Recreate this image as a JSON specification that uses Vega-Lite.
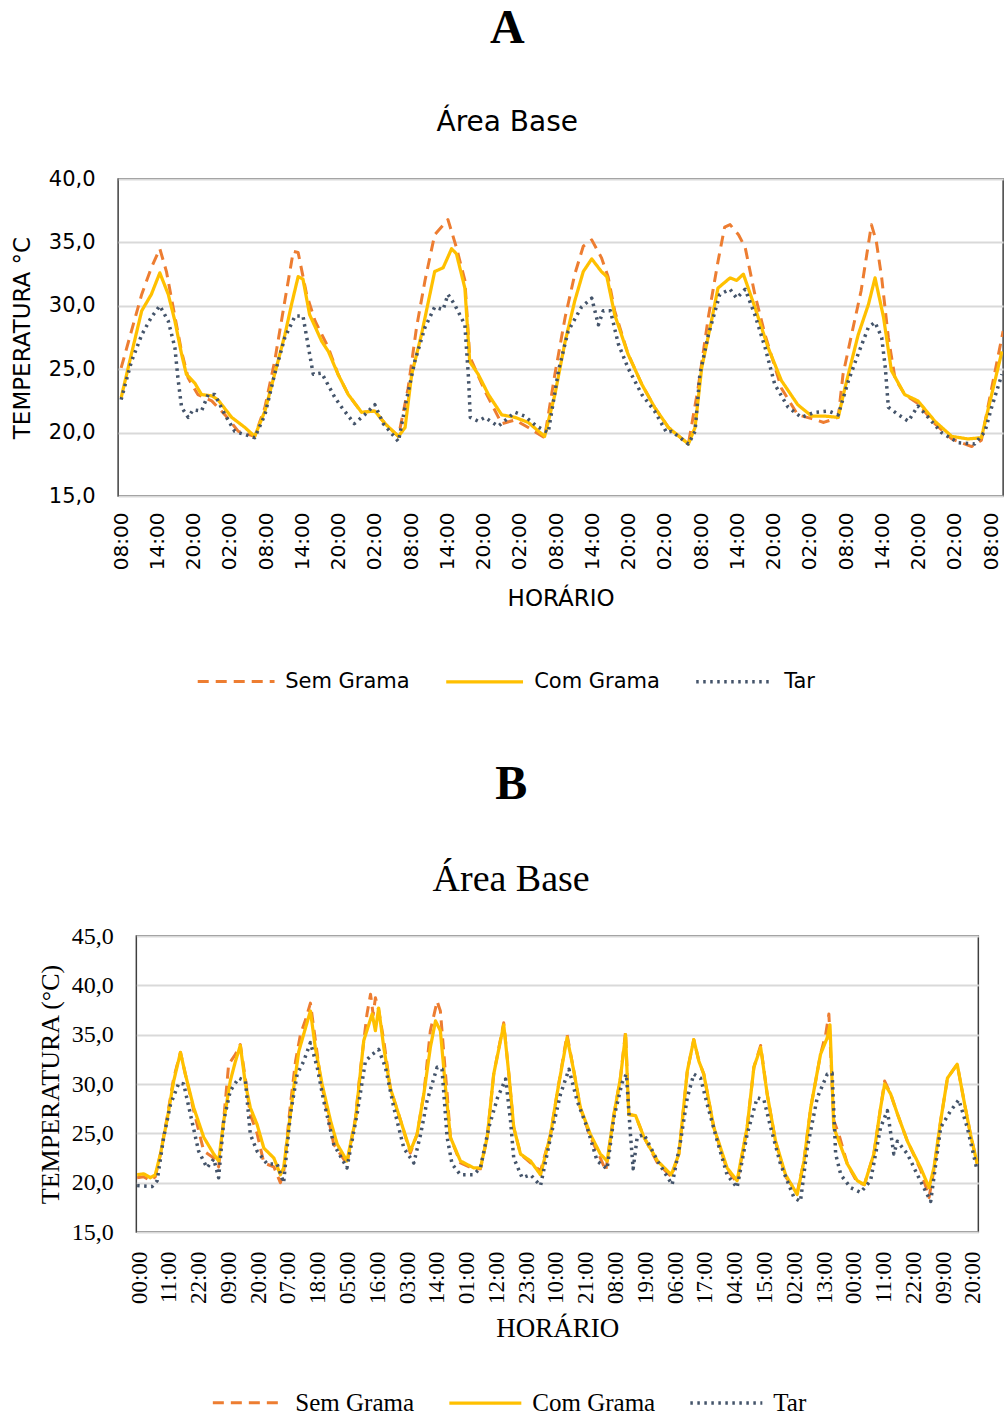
{
  "$schema": "https://vega.github.io/schema/vega-lite/v6.json",
  "background": "white",
  "padding": {"left": 10, "top": 4, "right": 0, "bottom": 0},
  "center": true,
  "spacing": 67,
  "resolve": {
    "scale": {"color": "independent", "strokeDash": "independent", "strokeWidth": "independent"},
    "legend": {"color": "independent", "strokeDash": "independent"}
  },
  "config": {
    "view": {"stroke": "#404040", "strokeWidth": 1.5},
    "axis": {"ticks": false, "domain": false, "labelColor": "black", "titleColor": "black", "titleFontWeight": "normal", "labelOverlap": false},
    "axisY": {"grid": true, "gridColor": "#D9D9D9", "gridWidth": 2},
    "axisX": {"grid": false}
  },
  "vconcat": [
    {
      "width": 885,
      "height": 317,
      "title": {
        "text": "A",
        "font": "Liberation Serif",
        "fontWeight": "bold",
        "fontSize": 48,
        "color": "black",
        "subtitle": "Área Base",
        "subtitleFont": "DejaVu Sans",
        "subtitleFontSize": 28,
        "subtitleColor": "black",
        "subtitlePadding": 56,
        "offset": 31,
        "anchor": "middle",
        "frame": "bounds"
      },
      "data": {
        "values": [
          {"hora": 0, "serie": "Sem Grama", "temp": 25.1},
          {"hora": 1.7, "serie": "Sem Grama", "temp": 28.0},
          {"hora": 3.4, "serie": "Sem Grama", "temp": 30.9},
          {"hora": 5.0, "serie": "Sem Grama", "temp": 33.0},
          {"hora": 6.4, "serie": "Sem Grama", "temp": 34.5},
          {"hora": 7.5, "serie": "Sem Grama", "temp": 32.7},
          {"hora": 8.6, "serie": "Sem Grama", "temp": 29.9},
          {"hora": 10, "serie": "Sem Grama", "temp": 26.4},
          {"hora": 11.1, "serie": "Sem Grama", "temp": 24.3},
          {"hora": 12.7, "serie": "Sem Grama", "temp": 23.0},
          {"hora": 15, "serie": "Sem Grama", "temp": 22.5},
          {"hora": 17.2, "serie": "Sem Grama", "temp": 21.4},
          {"hora": 19.4, "serie": "Sem Grama", "temp": 20.1},
          {"hora": 22.1, "serie": "Sem Grama", "temp": 19.7},
          {"hora": 23.8, "serie": "Sem Grama", "temp": 22.0},
          {"hora": 25.4, "serie": "Sem Grama", "temp": 25.6},
          {"hora": 27.1, "serie": "Sem Grama", "temp": 30.4},
          {"hora": 28.5, "serie": "Sem Grama", "temp": 34.3},
          {"hora": 29.3, "serie": "Sem Grama", "temp": 34.2},
          {"hora": 30.7, "serie": "Sem Grama", "temp": 30.9},
          {"hora": 32.1, "serie": "Sem Grama", "temp": 28.8},
          {"hora": 34.3, "serie": "Sem Grama", "temp": 26.7},
          {"hora": 35.9, "serie": "Sem Grama", "temp": 24.6},
          {"hora": 37.6, "serie": "Sem Grama", "temp": 23.0},
          {"hora": 39.8, "serie": "Sem Grama", "temp": 21.6},
          {"hora": 42, "serie": "Sem Grama", "temp": 21.7},
          {"hora": 43.7, "serie": "Sem Grama", "temp": 20.7},
          {"hora": 45.9, "serie": "Sem Grama", "temp": 19.7},
          {"hora": 47.5, "serie": "Sem Grama", "temp": 23.5},
          {"hora": 48.9, "serie": "Sem Grama", "temp": 28.3},
          {"hora": 50.3, "serie": "Sem Grama", "temp": 32.0},
          {"hora": 51.9, "serie": "Sem Grama", "temp": 35.6},
          {"hora": 54.1, "serie": "Sem Grama", "temp": 36.8},
          {"hora": 55.5, "serie": "Sem Grama", "temp": 34.6},
          {"hora": 56.9, "serie": "Sem Grama", "temp": 32.0},
          {"hora": 57.7, "serie": "Sem Grama", "temp": 26.0},
          {"hora": 60.2, "serie": "Sem Grama", "temp": 23.3},
          {"hora": 63, "serie": "Sem Grama", "temp": 20.7},
          {"hora": 65.2, "serie": "Sem Grama", "temp": 21.0},
          {"hora": 67.4, "serie": "Sem Grama", "temp": 20.4},
          {"hora": 70.1, "serie": "Sem Grama", "temp": 19.6},
          {"hora": 71.8, "serie": "Sem Grama", "temp": 24.6},
          {"hora": 73.5, "serie": "Sem Grama", "temp": 29.1},
          {"hora": 75.1, "serie": "Sem Grama", "temp": 32.5},
          {"hora": 76.5, "serie": "Sem Grama", "temp": 34.7},
          {"hora": 77.9, "serie": "Sem Grama", "temp": 35.2},
          {"hora": 79.5, "serie": "Sem Grama", "temp": 33.8},
          {"hora": 80.6, "serie": "Sem Grama", "temp": 32.3},
          {"hora": 81.7, "serie": "Sem Grama", "temp": 29.6},
          {"hora": 83.9, "serie": "Sem Grama", "temp": 26.2},
          {"hora": 86.2, "serie": "Sem Grama", "temp": 23.8},
          {"hora": 88.3, "serie": "Sem Grama", "temp": 22.0},
          {"hora": 90.6, "serie": "Sem Grama", "temp": 20.4},
          {"hora": 93.9, "serie": "Sem Grama", "temp": 19.1},
          {"hora": 95.5, "serie": "Sem Grama", "temp": 23.5},
          {"hora": 97.2, "serie": "Sem Grama", "temp": 29.1},
          {"hora": 98.8, "serie": "Sem Grama", "temp": 33.5},
          {"hora": 99.9, "serie": "Sem Grama", "temp": 36.2},
          {"hora": 100.8, "serie": "Sem Grama", "temp": 36.4},
          {"hora": 102.2, "serie": "Sem Grama", "temp": 35.6},
          {"hora": 103.3, "serie": "Sem Grama", "temp": 34.6},
          {"hora": 104.9, "serie": "Sem Grama", "temp": 30.9},
          {"hora": 106.6, "serie": "Sem Grama", "temp": 27.7},
          {"hora": 109.3, "serie": "Sem Grama", "temp": 23.5},
          {"hora": 112, "serie": "Sem Grama", "temp": 21.4},
          {"hora": 114.3, "serie": "Sem Grama", "temp": 21.1},
          {"hora": 116.3, "serie": "Sem Grama", "temp": 20.8},
          {"hora": 118.7, "serie": "Sem Grama", "temp": 21.2},
          {"hora": 119.5, "serie": "Sem Grama", "temp": 24.6},
          {"hora": 120.9, "serie": "Sem Grama", "temp": 27.7},
          {"hora": 122.5, "serie": "Sem Grama", "temp": 31.2},
          {"hora": 124.2, "serie": "Sem Grama", "temp": 36.4},
          {"hora": 125, "serie": "Sem Grama", "temp": 35.1},
          {"hora": 125.9, "serie": "Sem Grama", "temp": 32.2},
          {"hora": 127, "serie": "Sem Grama", "temp": 27.5},
          {"hora": 128.1, "serie": "Sem Grama", "temp": 24.3},
          {"hora": 129.7, "serie": "Sem Grama", "temp": 23.0},
          {"hora": 131.9, "serie": "Sem Grama", "temp": 22.3},
          {"hora": 134.7, "serie": "Sem Grama", "temp": 20.7},
          {"hora": 137.5, "serie": "Sem Grama", "temp": 19.5},
          {"hora": 140.8, "serie": "Sem Grama", "temp": 18.9},
          {"hora": 142.4, "serie": "Sem Grama", "temp": 19.4},
          {"hora": 144.1, "serie": "Sem Grama", "temp": 23.5},
          {"hora": 146, "serie": "Sem Grama", "temp": 28.0},

          {"hora": 0, "serie": "Com Grama", "temp": 22.75},
          {"hora": 1.7, "serie": "Com Grama", "temp": 26.2},
          {"hora": 3.4, "serie": "Com Grama", "temp": 29.6},
          {"hora": 5.0, "serie": "Com Grama", "temp": 30.9},
          {"hora": 6.4, "serie": "Com Grama", "temp": 32.6},
          {"hora": 7.8, "serie": "Com Grama", "temp": 30.9},
          {"hora": 8.9, "serie": "Com Grama", "temp": 28.8},
          {"hora": 10, "serie": "Com Grama", "temp": 26.2},
          {"hora": 10.8, "serie": "Com Grama", "temp": 24.6},
          {"hora": 12.2, "serie": "Com Grama", "temp": 23.9},
          {"hora": 13.3, "serie": "Com Grama", "temp": 23.0},
          {"hora": 15, "serie": "Com Grama", "temp": 22.9},
          {"hora": 16, "serie": "Com Grama", "temp": 22.6},
          {"hora": 18.3, "serie": "Com Grama", "temp": 21.2},
          {"hora": 20.5, "serie": "Com Grama", "temp": 20.4},
          {"hora": 22.1, "serie": "Com Grama", "temp": 19.7},
          {"hora": 23.8, "serie": "Com Grama", "temp": 21.7},
          {"hora": 25.4, "serie": "Com Grama", "temp": 24.6},
          {"hora": 27.1, "serie": "Com Grama", "temp": 27.7},
          {"hora": 28.2, "serie": "Com Grama", "temp": 30.1},
          {"hora": 29.3, "serie": "Com Grama", "temp": 32.3},
          {"hora": 30.1, "serie": "Com Grama", "temp": 32.1},
          {"hora": 31.2, "serie": "Com Grama", "temp": 29.3},
          {"hora": 33.2, "serie": "Com Grama", "temp": 27.2},
          {"hora": 34.3, "serie": "Com Grama", "temp": 26.4},
          {"hora": 35.9, "serie": "Com Grama", "temp": 24.6},
          {"hora": 37.6, "serie": "Com Grama", "temp": 23.0},
          {"hora": 39.8, "serie": "Com Grama", "temp": 21.6},
          {"hora": 42, "serie": "Com Grama", "temp": 21.7},
          {"hora": 43.7, "serie": "Com Grama", "temp": 20.7},
          {"hora": 45.9, "serie": "Com Grama", "temp": 19.7},
          {"hora": 47, "serie": "Com Grama", "temp": 20.4},
          {"hora": 48.1, "serie": "Com Grama", "temp": 24.6},
          {"hora": 49.7, "serie": "Com Grama", "temp": 27.7},
          {"hora": 51.9, "serie": "Com Grama", "temp": 32.7},
          {"hora": 53.3, "serie": "Com Grama", "temp": 33.0},
          {"hora": 54.7, "serie": "Com Grama", "temp": 34.5},
          {"hora": 55.5, "serie": "Com Grama", "temp": 34.1},
          {"hora": 56.9, "serie": "Com Grama", "temp": 31.4},
          {"hora": 57.7, "serie": "Com Grama", "temp": 25.6},
          {"hora": 59.1, "serie": "Com Grama", "temp": 24.6},
          {"hora": 60.8, "serie": "Com Grama", "temp": 23.0},
          {"hora": 63, "serie": "Com Grama", "temp": 21.4},
          {"hora": 65.2, "serie": "Com Grama", "temp": 21.2},
          {"hora": 67.4, "serie": "Com Grama", "temp": 20.8},
          {"hora": 70.1, "serie": "Com Grama", "temp": 19.7},
          {"hora": 71.8, "serie": "Com Grama", "temp": 23.0},
          {"hora": 73.5, "serie": "Com Grama", "temp": 27.2},
          {"hora": 75.1, "serie": "Com Grama", "temp": 30.4},
          {"hora": 76.5, "serie": "Com Grama", "temp": 32.7},
          {"hora": 77.9, "serie": "Com Grama", "temp": 33.7},
          {"hora": 79.5, "serie": "Com Grama", "temp": 32.7},
          {"hora": 80.4, "serie": "Com Grama", "temp": 32.3},
          {"hora": 81.7, "serie": "Com Grama", "temp": 29.3},
          {"hora": 83.9, "serie": "Com Grama", "temp": 26.2},
          {"hora": 86.2, "serie": "Com Grama", "temp": 23.8},
          {"hora": 88.3, "serie": "Com Grama", "temp": 22.0},
          {"hora": 90.6, "serie": "Com Grama", "temp": 20.4},
          {"hora": 93.9, "serie": "Com Grama", "temp": 19.1},
          {"hora": 95, "serie": "Com Grama", "temp": 20.4},
          {"hora": 96.1, "serie": "Com Grama", "temp": 25.1},
          {"hora": 97.5, "serie": "Com Grama", "temp": 28.3},
          {"hora": 98.8, "serie": "Com Grama", "temp": 31.4},
          {"hora": 100.8, "serie": "Com Grama", "temp": 32.2},
          {"hora": 101.9, "serie": "Com Grama", "temp": 32.0},
          {"hora": 103, "serie": "Com Grama", "temp": 32.5},
          {"hora": 104.9, "serie": "Com Grama", "temp": 29.9},
          {"hora": 107.1, "serie": "Com Grama", "temp": 26.7},
          {"hora": 109.3, "serie": "Com Grama", "temp": 24.1},
          {"hora": 112, "serie": "Com Grama", "temp": 22.2},
          {"hora": 114.3, "serie": "Com Grama", "temp": 21.3},
          {"hora": 116.5, "serie": "Com Grama", "temp": 21.3},
          {"hora": 118.7, "serie": "Com Grama", "temp": 21.2},
          {"hora": 119.8, "serie": "Com Grama", "temp": 23.5},
          {"hora": 122, "serie": "Com Grama", "temp": 27.7},
          {"hora": 123.7, "serie": "Com Grama", "temp": 30.1},
          {"hora": 124.8, "serie": "Com Grama", "temp": 32.2},
          {"hora": 126.2, "serie": "Com Grama", "temp": 29.1},
          {"hora": 127.5, "serie": "Com Grama", "temp": 24.9},
          {"hora": 129.7, "serie": "Com Grama", "temp": 23.0},
          {"hora": 131.9, "serie": "Com Grama", "temp": 22.5},
          {"hora": 134.7, "serie": "Com Grama", "temp": 20.9},
          {"hora": 137.5, "serie": "Com Grama", "temp": 19.7},
          {"hora": 140.2, "serie": "Com Grama", "temp": 19.5},
          {"hora": 142.4, "serie": "Com Grama", "temp": 19.6},
          {"hora": 144.1, "serie": "Com Grama", "temp": 23.0},
          {"hora": 145.8, "serie": "Com Grama", "temp": 26.4},

          {"hora": 0, "serie": "Tar", "temp": 22.6},
          {"hora": 1.7, "serie": "Tar", "temp": 25.6},
          {"hora": 3.4, "serie": "Tar", "temp": 27.7},
          {"hora": 5.0, "serie": "Tar", "temp": 29.1},
          {"hora": 6.4, "serie": "Tar", "temp": 30.0},
          {"hora": 7.8, "serie": "Tar", "temp": 28.8},
          {"hora": 8.9, "serie": "Tar", "temp": 26.7},
          {"hora": 9.4, "serie": "Tar", "temp": 24.3},
          {"hora": 10, "serie": "Tar", "temp": 22.0},
          {"hora": 11.1, "serie": "Tar", "temp": 21.2},
          {"hora": 11.9, "serie": "Tar", "temp": 21.8},
          {"hora": 13.3, "serie": "Tar", "temp": 21.7},
          {"hora": 14.4, "serie": "Tar", "temp": 23.0},
          {"hora": 15.5, "serie": "Tar", "temp": 23.0},
          {"hora": 17.2, "serie": "Tar", "temp": 21.4},
          {"hora": 18.8, "serie": "Tar", "temp": 20.1},
          {"hora": 22.1, "serie": "Tar", "temp": 19.6},
          {"hora": 23.8, "serie": "Tar", "temp": 21.4},
          {"hora": 25.4, "serie": "Tar", "temp": 24.6},
          {"hora": 27.1, "serie": "Tar", "temp": 27.5},
          {"hora": 28.8, "serie": "Tar", "temp": 29.2},
          {"hora": 30.1, "serie": "Tar", "temp": 29.2},
          {"hora": 31.2, "serie": "Tar", "temp": 26.2},
          {"hora": 31.8, "serie": "Tar", "temp": 24.6},
          {"hora": 33.2, "serie": "Tar", "temp": 24.7},
          {"hora": 35.4, "serie": "Tar", "temp": 22.75},
          {"hora": 36.5, "serie": "Tar", "temp": 22.0},
          {"hora": 38.6, "serie": "Tar", "temp": 20.7},
          {"hora": 40.3, "serie": "Tar", "temp": 21.4},
          {"hora": 42, "serie": "Tar", "temp": 22.2},
          {"hora": 43.4, "serie": "Tar", "temp": 20.7},
          {"hora": 45.9, "serie": "Tar", "temp": 19.3},
          {"hora": 47.2, "serie": "Tar", "temp": 22.5},
          {"hora": 48.6, "serie": "Tar", "temp": 25.6},
          {"hora": 50.3, "serie": "Tar", "temp": 28.3},
          {"hora": 51.9, "serie": "Tar", "temp": 29.9},
          {"hora": 53.3, "serie": "Tar", "temp": 29.7},
          {"hora": 54.1, "serie": "Tar", "temp": 30.9},
          {"hora": 55.2, "serie": "Tar", "temp": 30.1},
          {"hora": 56.9, "serie": "Tar", "temp": 28.5},
          {"hora": 57.5, "serie": "Tar", "temp": 24.3},
          {"hora": 57.8, "serie": "Tar", "temp": 21.2},
          {"hora": 59.1, "serie": "Tar", "temp": 20.9},
          {"hora": 60.2, "serie": "Tar", "temp": 21.2},
          {"hora": 62.4, "serie": "Tar", "temp": 20.5},
          {"hora": 65.2, "serie": "Tar", "temp": 21.6},
          {"hora": 66.8, "serie": "Tar", "temp": 21.3},
          {"hora": 68.8, "serie": "Tar", "temp": 20.5},
          {"hora": 70.7, "serie": "Tar", "temp": 20.0},
          {"hora": 72.4, "serie": "Tar", "temp": 24.9},
          {"hora": 74, "serie": "Tar", "temp": 28.0},
          {"hora": 76.2, "serie": "Tar", "temp": 29.9},
          {"hora": 77.9, "serie": "Tar", "temp": 30.6},
          {"hora": 79, "serie": "Tar", "temp": 28.5},
          {"hora": 79.8, "serie": "Tar", "temp": 29.6},
          {"hora": 81, "serie": "Tar", "temp": 29.6},
          {"hora": 82.3, "serie": "Tar", "temp": 27.0},
          {"hora": 83.9, "serie": "Tar", "temp": 25.1},
          {"hora": 86.2, "serie": "Tar", "temp": 23.0},
          {"hora": 88.3, "serie": "Tar", "temp": 21.7},
          {"hora": 90.3, "serie": "Tar", "temp": 20.0},
          {"hora": 91.1, "serie": "Tar", "temp": 20.1},
          {"hora": 93.9, "serie": "Tar", "temp": 19.1},
          {"hora": 95, "serie": "Tar", "temp": 20.1},
          {"hora": 95.8, "serie": "Tar", "temp": 24.6},
          {"hora": 97.2, "serie": "Tar", "temp": 27.7},
          {"hora": 99.1, "serie": "Tar", "temp": 30.9},
          {"hora": 100.8, "serie": "Tar", "temp": 31.3},
          {"hora": 101.9, "serie": "Tar", "temp": 30.6},
          {"hora": 103.3, "serie": "Tar", "temp": 31.3},
          {"hora": 104.9, "serie": "Tar", "temp": 29.3},
          {"hora": 106.6, "serie": "Tar", "temp": 26.7},
          {"hora": 108.2, "serie": "Tar", "temp": 23.8},
          {"hora": 110.4, "serie": "Tar", "temp": 22.0},
          {"hora": 112.6, "serie": "Tar", "temp": 21.2},
          {"hora": 114.8, "serie": "Tar", "temp": 21.6},
          {"hora": 117.1, "serie": "Tar", "temp": 21.7},
          {"hora": 118.7, "serie": "Tar", "temp": 21.4},
          {"hora": 120.4, "serie": "Tar", "temp": 24.1},
          {"hora": 122, "serie": "Tar", "temp": 26.2},
          {"hora": 123.7, "serie": "Tar", "temp": 28.3},
          {"hora": 124.8, "serie": "Tar", "temp": 28.7},
          {"hora": 125.9, "serie": "Tar", "temp": 27.5},
          {"hora": 126.5, "serie": "Tar", "temp": 25.1},
          {"hora": 127, "serie": "Tar", "temp": 22.0},
          {"hora": 128.7, "serie": "Tar", "temp": 21.4},
          {"hora": 130.3, "serie": "Tar", "temp": 20.9},
          {"hora": 131.9, "serie": "Tar", "temp": 22.1},
          {"hora": 133.6, "serie": "Tar", "temp": 21.2},
          {"hora": 135.8, "serie": "Tar", "temp": 20.0},
          {"hora": 138.6, "serie": "Tar", "temp": 19.2},
          {"hora": 141.3, "serie": "Tar", "temp": 19.1},
          {"hora": 143, "serie": "Tar", "temp": 20.1},
          {"hora": 144.1, "serie": "Tar", "temp": 22.0},
          {"hora": 145.8, "serie": "Tar", "temp": 24.6}
        ]
      },
      "mark": {"type": "line", "clip": true, "strokeCap": "butt", "strokeJoin": "round"},
      "encoding": {
        "x": {
          "field": "hora", "type": "quantitative",
          "scale": {"domain": [-0.5, 146], "nice": false, "zero": false},
          "axis": {
            "values": [0, 6, 12, 18, 24, 30, 36, 42, 48, 54, 60, 66, 72, 78, 84, 90, 96, 102, 108, 114, 120, 126, 132, 138, 144],
            "labelExpr": "(((8 + datum.value) % 24) < 10 ? '0' : '') + ((8 + datum.value) % 24) + ':00'",
            "labelAngle": -90,
            "labelFont": "DejaVu Sans", "labelFontSize": 20, "labelPadding": 16,
            "title": "HORÁRIO", "titleFont": "DejaVu Sans", "titleFontSize": 23, "titlePadding": 18
          }
        },
        "y": {
          "field": "temp", "type": "quantitative",
          "scale": {"domain": [15, 40], "nice": false, "zero": false},
          "axis": {
            "values": [15, 20, 25, 30, 35, 40],
            "labelExpr": "replace(format(datum.value, '.1f'), '.', ',')",
            "labelFont": "DejaVu Sans", "labelFontSize": 21, "labelPadding": 23,
            "title": "TEMPERATURA °C", "titleFont": "DejaVu Sans", "titleFontSize": 23, "titlePadding": 14
          }
        },
        "color": {
          "field": "serie", "type": "nominal",
          "scale": {"domain": ["Sem Grama", "Com Grama", "Tar"], "range": ["#ED7D31", "#FFC000", "#44546A"]},
          "legend": {"orient": "none", "legendX": 78, "legendY": 462, "direction": "horizontal", "title": null, "symbolType": "stroke", "symbolSize": 5900, "symbolStrokeWidth": 3.5, "labelFont": "DejaVu Sans", "labelFontSize": 21, "labelColor": "black", "labelOffset": 9, "columnPadding": 29, "padding": 0, "labelLimit": 300}
        },
        "strokeDash": {
          "field": "serie", "type": "nominal",
          "scale": {"domain": ["Sem Grama", "Com Grama", "Tar"], "range": [[11, 7], [1, 0], [2.5, 4.5]]},
          "legend": {"orient": "none", "legendX": 78, "legendY": 462, "direction": "horizontal", "title": null, "symbolType": "stroke", "symbolSize": 5900, "symbolStrokeWidth": 3.5, "labelFont": "DejaVu Sans", "labelFontSize": 21, "labelColor": "black", "labelOffset": 9, "columnPadding": 29, "padding": 0, "labelLimit": 300}
        },
        "strokeWidth": {
          "field": "serie", "type": "nominal",
          "scale": {"domain": ["Sem Grama", "Com Grama", "Tar"], "range": [3, 3.5, 2.5]},
          "legend": null
        }
      }
    },
    {
      "width": 842,
      "height": 296,
      "title": {
        "text": "B",
        "font": "Liberation Serif",
        "fontWeight": "bold",
        "fontSize": 48,
        "color": "black",
        "subtitle": "Área Base",
        "subtitleFont": "Liberation Serif",
        "subtitleFontSize": 38,
        "subtitleColor": "black",
        "subtitlePadding": 52,
        "offset": 25,
        "anchor": "middle",
        "frame": "bounds"
      },
      "data": {
        "values": [
          {"hora": -0.7, "serie": "Sem Grama", "temp": 20.5},
          {"hora": 1.7, "serie": "Sem Grama", "temp": 20.6},
          {"hora": 4.2, "serie": "Sem Grama", "temp": 20.2},
          {"hora": 6, "serie": "Sem Grama", "temp": 20.6},
          {"hora": 7.9, "serie": "Sem Grama", "temp": 22.9},
          {"hora": 10.3, "serie": "Sem Grama", "temp": 26.5},
          {"hora": 12.8, "serie": "Sem Grama", "temp": 30.6},
          {"hora": 15.3, "serie": "Sem Grama", "temp": 33.2},
          {"hora": 17.1, "serie": "Sem Grama", "temp": 31.0},
          {"hora": 20.2, "serie": "Sem Grama", "temp": 27.3},
          {"hora": 23.9, "serie": "Sem Grama", "temp": 23.2},
          {"hora": 27.6, "serie": "Sem Grama", "temp": 22.5},
          {"hora": 29.4, "serie": "Sem Grama", "temp": 21.6},
          {"hora": 31.3, "serie": "Sem Grama", "temp": 26.5},
          {"hora": 33.1, "serie": "Sem Grama", "temp": 32.0},
          {"hora": 35.6, "serie": "Sem Grama", "temp": 33.0},
          {"hora": 37.4, "serie": "Sem Grama", "temp": 34.0},
          {"hora": 39.3, "serie": "Sem Grama", "temp": 30.5},
          {"hora": 41.1, "serie": "Sem Grama", "temp": 26.9},
          {"hora": 43.6, "serie": "Sem Grama", "temp": 25.0},
          {"hora": 46.1, "serie": "Sem Grama", "temp": 22.0},
          {"hora": 49.8, "serie": "Sem Grama", "temp": 21.6},
          {"hora": 52.2, "serie": "Sem Grama", "temp": 20.0},
          {"hora": 53.4, "serie": "Sem Grama", "temp": 21.0},
          {"hora": 55.9, "serie": "Sem Grama", "temp": 27.9},
          {"hora": 57.8, "serie": "Sem Grama", "temp": 32.3},
          {"hora": 59.6, "serie": "Sem Grama", "temp": 35.0},
          {"hora": 61.5, "serie": "Sem Grama", "temp": 36.5},
          {"hora": 63.3, "serie": "Sem Grama", "temp": 38.2},
          {"hora": 65.1, "serie": "Sem Grama", "temp": 34.5},
          {"hora": 67, "serie": "Sem Grama", "temp": 30.6},
          {"hora": 71.9, "serie": "Sem Grama", "temp": 23.9},
          {"hora": 76.8, "serie": "Sem Grama", "temp": 21.9},
          {"hora": 79.9, "serie": "Sem Grama", "temp": 26.5},
          {"hora": 81.7, "serie": "Sem Grama", "temp": 31.3},
          {"hora": 84.2, "serie": "Sem Grama", "temp": 37.1},
          {"hora": 85.5, "serie": "Sem Grama", "temp": 39.1},
          {"hora": 86.5, "serie": "Sem Grama", "temp": 37.0},
          {"hora": 87.3, "serie": "Sem Grama", "temp": 38.75},
          {"hora": 88.5, "serie": "Sem Grama", "temp": 37.5},
          {"hora": 90.4, "serie": "Sem Grama", "temp": 34.4},
          {"hora": 92.8, "serie": "Sem Grama", "temp": 29.6},
          {"hora": 96.6, "serie": "Sem Grama", "temp": 26.3},
          {"hora": 100.2, "serie": "Sem Grama", "temp": 23.0},
          {"hora": 102.7, "serie": "Sem Grama", "temp": 24.9},
          {"hora": 105.2, "serie": "Sem Grama", "temp": 29.0},
          {"hora": 107.6, "serie": "Sem Grama", "temp": 35.4},
          {"hora": 110.1, "serie": "Sem Grama", "temp": 38.4},
          {"hora": 111.3, "serie": "Sem Grama", "temp": 37.4},
          {"hora": 113.8, "serie": "Sem Grama", "temp": 29.0},
          {"hora": 115, "serie": "Sem Grama", "temp": 24.6},
          {"hora": 118.7, "serie": "Sem Grama", "temp": 22.0},
          {"hora": 123.6, "serie": "Sem Grama", "temp": 21.4},
          {"hora": 126.1, "serie": "Sem Grama", "temp": 21.4},
          {"hora": 128.6, "serie": "Sem Grama", "temp": 24.6},
          {"hora": 131, "serie": "Sem Grama", "temp": 31.0},
          {"hora": 134.7, "serie": "Sem Grama", "temp": 36.2},
          {"hora": 136.6, "serie": "Sem Grama", "temp": 31.0},
          {"hora": 138.4, "serie": "Sem Grama", "temp": 25.6},
          {"hora": 140.9, "serie": "Sem Grama", "temp": 22.9},
          {"hora": 144.6, "serie": "Sem Grama", "temp": 22.0},
          {"hora": 148.3, "serie": "Sem Grama", "temp": 21.2},
          {"hora": 152, "serie": "Sem Grama", "temp": 24.9},
          {"hora": 154.4, "serie": "Sem Grama", "temp": 29.0},
          {"hora": 158.1, "serie": "Sem Grama", "temp": 35.0},
          {"hora": 160.6, "serie": "Sem Grama", "temp": 31.3},
          {"hora": 163, "serie": "Sem Grama", "temp": 27.6},
          {"hora": 166.7, "serie": "Sem Grama", "temp": 24.6},
          {"hora": 170.4, "serie": "Sem Grama", "temp": 22.5},
          {"hora": 172.4, "serie": "Sem Grama", "temp": 21.2},
          {"hora": 175.4, "serie": "Sem Grama", "temp": 26.9},
          {"hora": 177.8, "serie": "Sem Grama", "temp": 30.6},
          {"hora": 179.7, "serie": "Sem Grama", "temp": 35.3},
          {"hora": 180.9, "serie": "Sem Grama", "temp": 26.9},
          {"hora": 183.4, "serie": "Sem Grama", "temp": 26.8},
          {"hora": 186.5, "serie": "Sem Grama", "temp": 24.6},
          {"hora": 191.5, "serie": "Sem Grama", "temp": 22.0},
          {"hora": 196.6, "serie": "Sem Grama", "temp": 20.6},
          {"hora": 199.4, "serie": "Sem Grama", "temp": 22.9},
          {"hora": 202.5, "serie": "Sem Grama", "temp": 31.3},
          {"hora": 204.9, "serie": "Sem Grama", "temp": 34.5},
          {"hora": 206.8, "serie": "Sem Grama", "temp": 32.3},
          {"hora": 208.6, "serie": "Sem Grama", "temp": 31.0},
          {"hora": 212.3, "serie": "Sem Grama", "temp": 25.6},
          {"hora": 217.2, "serie": "Sem Grama", "temp": 21.3},
          {"hora": 220.9, "serie": "Sem Grama", "temp": 20.0},
          {"hora": 224.6, "serie": "Sem Grama", "temp": 25.6},
          {"hora": 227.1, "serie": "Sem Grama", "temp": 31.7},
          {"hora": 229.6, "serie": "Sem Grama", "temp": 33.9},
          {"hora": 232, "serie": "Sem Grama", "temp": 29.0},
          {"hora": 235.1, "serie": "Sem Grama", "temp": 24.2},
          {"hora": 238.8, "serie": "Sem Grama", "temp": 20.6},
          {"hora": 243.1, "serie": "Sem Grama", "temp": 19.0},
          {"hora": 245.6, "serie": "Sem Grama", "temp": 22.2},
          {"hora": 248.1, "serie": "Sem Grama", "temp": 27.6},
          {"hora": 251.7, "serie": "Sem Grama", "temp": 33.0},
          {"hora": 253.6, "serie": "Sem Grama", "temp": 35.0},
          {"hora": 254.8, "serie": "Sem Grama", "temp": 37.1},
          {"hora": 256.6, "serie": "Sem Grama", "temp": 26.3},
          {"hora": 258.5, "serie": "Sem Grama", "temp": 24.9},
          {"hora": 261.6, "serie": "Sem Grama", "temp": 21.9},
          {"hora": 265.3, "serie": "Sem Grama", "temp": 20.0},
          {"hora": 267.9, "serie": "Sem Grama", "temp": 19.8},
          {"hora": 271.4, "serie": "Sem Grama", "temp": 22.9},
          {"hora": 273.9, "serie": "Sem Grama", "temp": 27.6},
          {"hora": 275.4, "serie": "Sem Grama", "temp": 30.3},
          {"hora": 277.6, "serie": "Sem Grama", "temp": 29.0},
          {"hora": 280.2, "serie": "Sem Grama", "temp": 26.9},
          {"hora": 283.8, "serie": "Sem Grama", "temp": 24.2},
          {"hora": 288.7, "serie": "Sem Grama", "temp": 21.3},
          {"hora": 291.8, "serie": "Sem Grama", "temp": 18.5},
          {"hora": 293.6, "serie": "Sem Grama", "temp": 21.3},
          {"hora": 296.1, "serie": "Sem Grama", "temp": 26.3},
          {"hora": 298.6, "serie": "Sem Grama", "temp": 30.6},
          {"hora": 302.2, "serie": "Sem Grama", "temp": 32.0},
          {"hora": 304.7, "serie": "Sem Grama", "temp": 28.3},
          {"hora": 307.1, "serie": "Sem Grama", "temp": 24.9},
          {"hora": 309.6, "serie": "Sem Grama", "temp": 21.9},

          {"hora": -0.7, "serie": "Com Grama", "temp": 20.8},
          {"hora": 1.7, "serie": "Com Grama", "temp": 20.9},
          {"hora": 4.2, "serie": "Com Grama", "temp": 20.5},
          {"hora": 6, "serie": "Com Grama", "temp": 20.8},
          {"hora": 7.9, "serie": "Com Grama", "temp": 22.9},
          {"hora": 10.3, "serie": "Com Grama", "temp": 26.3},
          {"hora": 12.8, "serie": "Com Grama", "temp": 30.3},
          {"hora": 15.3, "serie": "Com Grama", "temp": 33.2},
          {"hora": 17.1, "serie": "Com Grama", "temp": 31.0},
          {"hora": 20.2, "serie": "Com Grama", "temp": 27.6},
          {"hora": 23.9, "serie": "Com Grama", "temp": 24.6},
          {"hora": 27.6, "serie": "Com Grama", "temp": 22.9},
          {"hora": 29.4, "serie": "Com Grama", "temp": 22.2},
          {"hora": 31.3, "serie": "Com Grama", "temp": 26.3},
          {"hora": 33.7, "serie": "Com Grama", "temp": 30.3},
          {"hora": 35.6, "serie": "Com Grama", "temp": 32.3},
          {"hora": 37.4, "serie": "Com Grama", "temp": 33.9},
          {"hora": 39.3, "serie": "Com Grama", "temp": 30.0},
          {"hora": 41.1, "serie": "Com Grama", "temp": 27.6},
          {"hora": 43.6, "serie": "Com Grama", "temp": 25.9},
          {"hora": 46.1, "serie": "Com Grama", "temp": 23.5},
          {"hora": 49.8, "serie": "Com Grama", "temp": 22.5},
          {"hora": 52.2, "serie": "Com Grama", "temp": 20.8},
          {"hora": 53.4, "serie": "Com Grama", "temp": 21.5},
          {"hora": 55.3, "serie": "Com Grama", "temp": 25.6},
          {"hora": 57.1, "serie": "Com Grama", "temp": 29.6},
          {"hora": 59, "serie": "Com Grama", "temp": 33.3},
          {"hora": 61.5, "serie": "Com Grama", "temp": 35.7},
          {"hora": 63.3, "serie": "Com Grama", "temp": 37.4},
          {"hora": 65.1, "serie": "Com Grama", "temp": 33.7},
          {"hora": 67.6, "serie": "Com Grama", "temp": 30.0},
          {"hora": 70.7, "serie": "Com Grama", "temp": 26.3},
          {"hora": 73.2, "serie": "Com Grama", "temp": 23.9},
          {"hora": 76.8, "serie": "Com Grama", "temp": 22.2},
          {"hora": 79.9, "serie": "Com Grama", "temp": 26.3},
          {"hora": 83, "serie": "Com Grama", "temp": 34.4},
          {"hora": 86.1, "serie": "Com Grama", "temp": 37.1},
          {"hora": 87.3, "serie": "Com Grama", "temp": 35.4},
          {"hora": 88.5, "serie": "Com Grama", "temp": 37.7},
          {"hora": 90.4, "serie": "Com Grama", "temp": 33.7},
          {"hora": 92.8, "serie": "Com Grama", "temp": 29.6},
          {"hora": 96.6, "serie": "Com Grama", "temp": 26.3},
          {"hora": 100.2, "serie": "Com Grama", "temp": 23.2},
          {"hora": 102.7, "serie": "Com Grama", "temp": 24.9},
          {"hora": 105.2, "serie": "Com Grama", "temp": 29.0},
          {"hora": 107.6, "serie": "Com Grama", "temp": 33.7},
          {"hora": 109.5, "serie": "Com Grama", "temp": 36.4},
          {"hora": 111.3, "serie": "Com Grama", "temp": 35.4},
          {"hora": 113.2, "serie": "Com Grama", "temp": 29.6},
          {"hora": 115, "serie": "Com Grama", "temp": 24.6},
          {"hora": 118.7, "serie": "Com Grama", "temp": 22.2},
          {"hora": 123.6, "serie": "Com Grama", "temp": 21.5},
          {"hora": 126.1, "serie": "Com Grama", "temp": 21.5},
          {"hora": 128.6, "serie": "Com Grama", "temp": 24.6},
          {"hora": 131, "serie": "Com Grama", "temp": 31.0},
          {"hora": 134.7, "serie": "Com Grama", "temp": 36.0},
          {"hora": 136.6, "serie": "Com Grama", "temp": 31.0},
          {"hora": 138.4, "serie": "Com Grama", "temp": 25.6},
          {"hora": 140.9, "serie": "Com Grama", "temp": 22.9},
          {"hora": 144.6, "serie": "Com Grama", "temp": 22.2},
          {"hora": 148.3, "serie": "Com Grama", "temp": 20.8},
          {"hora": 152, "serie": "Com Grama", "temp": 24.9},
          {"hora": 154.4, "serie": "Com Grama", "temp": 29.0},
          {"hora": 158.1, "serie": "Com Grama", "temp": 34.7},
          {"hora": 160.6, "serie": "Com Grama", "temp": 31.3},
          {"hora": 163, "serie": "Com Grama", "temp": 27.6},
          {"hora": 166.7, "serie": "Com Grama", "temp": 24.9},
          {"hora": 170.4, "serie": "Com Grama", "temp": 22.9},
          {"hora": 172.9, "serie": "Com Grama", "temp": 22.2},
          {"hora": 175.4, "serie": "Com Grama", "temp": 26.9},
          {"hora": 177.8, "serie": "Com Grama", "temp": 30.6},
          {"hora": 179.7, "serie": "Com Grama", "temp": 35.0},
          {"hora": 180.9, "serie": "Com Grama", "temp": 26.9},
          {"hora": 183.4, "serie": "Com Grama", "temp": 26.8},
          {"hora": 186.5, "serie": "Com Grama", "temp": 24.6},
          {"hora": 191.5, "serie": "Com Grama", "temp": 22.2},
          {"hora": 196.6, "serie": "Com Grama", "temp": 20.8},
          {"hora": 199.4, "serie": "Com Grama", "temp": 22.9},
          {"hora": 202.5, "serie": "Com Grama", "temp": 31.3},
          {"hora": 204.9, "serie": "Com Grama", "temp": 34.5},
          {"hora": 206.8, "serie": "Com Grama", "temp": 32.3},
          {"hora": 208.6, "serie": "Com Grama", "temp": 31.0},
          {"hora": 212.3, "serie": "Com Grama", "temp": 25.6},
          {"hora": 217.2, "serie": "Com Grama", "temp": 21.5},
          {"hora": 220.9, "serie": "Com Grama", "temp": 20.2},
          {"hora": 224.6, "serie": "Com Grama", "temp": 25.6},
          {"hora": 227.1, "serie": "Com Grama", "temp": 31.7},
          {"hora": 229.6, "serie": "Com Grama", "temp": 33.7},
          {"hora": 232, "serie": "Com Grama", "temp": 29.0},
          {"hora": 235.1, "serie": "Com Grama", "temp": 24.2},
          {"hora": 238.8, "serie": "Com Grama", "temp": 20.8},
          {"hora": 243.1, "serie": "Com Grama", "temp": 18.8},
          {"hora": 245.6, "serie": "Com Grama", "temp": 22.2},
          {"hora": 248.1, "serie": "Com Grama", "temp": 27.6},
          {"hora": 251.7, "serie": "Com Grama", "temp": 33.0},
          {"hora": 254.2, "serie": "Com Grama", "temp": 34.7},
          {"hora": 255.2, "serie": "Com Grama", "temp": 36.0},
          {"hora": 256.6, "serie": "Com Grama", "temp": 25.6},
          {"hora": 261.6, "serie": "Com Grama", "temp": 21.9},
          {"hora": 265.3, "serie": "Com Grama", "temp": 20.2},
          {"hora": 267.9, "serie": "Com Grama", "temp": 19.8},
          {"hora": 271.4, "serie": "Com Grama", "temp": 22.9},
          {"hora": 273.9, "serie": "Com Grama", "temp": 27.6},
          {"hora": 275.4, "serie": "Com Grama", "temp": 30.0},
          {"hora": 277.6, "serie": "Com Grama", "temp": 29.0},
          {"hora": 280.2, "serie": "Com Grama", "temp": 26.9},
          {"hora": 283.8, "serie": "Com Grama", "temp": 24.2},
          {"hora": 288.7, "serie": "Com Grama", "temp": 21.5},
          {"hora": 291.8, "serie": "Com Grama", "temp": 19.5},
          {"hora": 293.6, "serie": "Com Grama", "temp": 21.5},
          {"hora": 296.1, "serie": "Com Grama", "temp": 26.3},
          {"hora": 298.6, "serie": "Com Grama", "temp": 30.6},
          {"hora": 302.2, "serie": "Com Grama", "temp": 32.0},
          {"hora": 304.7, "serie": "Com Grama", "temp": 28.3},
          {"hora": 307.1, "serie": "Com Grama", "temp": 24.9},
          {"hora": 309.6, "serie": "Com Grama", "temp": 21.9},

          {"hora": -0.7, "serie": "Tar", "temp": 19.7},
          {"hora": 4.8, "serie": "Tar", "temp": 19.6},
          {"hora": 6.7, "serie": "Tar", "temp": 20.2},
          {"hora": 9.1, "serie": "Tar", "temp": 24.6},
          {"hora": 11.6, "serie": "Tar", "temp": 27.9},
          {"hora": 14.7, "serie": "Tar", "temp": 30.1},
          {"hora": 16.5, "serie": "Tar", "temp": 30.0},
          {"hora": 19, "serie": "Tar", "temp": 26.9},
          {"hora": 22, "serie": "Tar", "temp": 23.2},
          {"hora": 25.1, "serie": "Tar", "temp": 21.5},
          {"hora": 27.6, "serie": "Tar", "temp": 22.4},
          {"hora": 29.4, "serie": "Tar", "temp": 20.5},
          {"hora": 31.3, "serie": "Tar", "temp": 26.3},
          {"hora": 33.7, "serie": "Tar", "temp": 29.3},
          {"hora": 36.8, "serie": "Tar", "temp": 30.6},
          {"hora": 39.3, "serie": "Tar", "temp": 30.3},
          {"hora": 41.1, "serie": "Tar", "temp": 24.9},
          {"hora": 43.6, "serie": "Tar", "temp": 23.2},
          {"hora": 47.3, "serie": "Tar", "temp": 21.9},
          {"hora": 51, "serie": "Tar", "temp": 21.9},
          {"hora": 53.4, "serie": "Tar", "temp": 20.0},
          {"hora": 55.9, "serie": "Tar", "temp": 26.9},
          {"hora": 58.4, "serie": "Tar", "temp": 31.0},
          {"hora": 60.8, "serie": "Tar", "temp": 32.3},
          {"hora": 63.3, "serie": "Tar", "temp": 34.2},
          {"hora": 65.8, "serie": "Tar", "temp": 31.7},
          {"hora": 68.2, "serie": "Tar", "temp": 28.3},
          {"hora": 71.9, "serie": "Tar", "temp": 23.9},
          {"hora": 76.8, "serie": "Tar", "temp": 21.5},
          {"hora": 80.5, "serie": "Tar", "temp": 26.9},
          {"hora": 83.6, "serie": "Tar", "temp": 32.3},
          {"hora": 86.1, "serie": "Tar", "temp": 33.0},
          {"hora": 88.5, "serie": "Tar", "temp": 33.5},
          {"hora": 91, "serie": "Tar", "temp": 31.7},
          {"hora": 94.1, "serie": "Tar", "temp": 27.6},
          {"hora": 97.8, "serie": "Tar", "temp": 23.5},
          {"hora": 101.5, "serie": "Tar", "temp": 22.0},
          {"hora": 104, "serie": "Tar", "temp": 24.9},
          {"hora": 106.4, "serie": "Tar", "temp": 28.3},
          {"hora": 110.1, "serie": "Tar", "temp": 31.7},
          {"hora": 111.9, "serie": "Tar", "temp": 31.5},
          {"hora": 113.8, "serie": "Tar", "temp": 24.6},
          {"hora": 115.6, "serie": "Tar", "temp": 21.9},
          {"hora": 118.7, "serie": "Tar", "temp": 20.8},
          {"hora": 123.6, "serie": "Tar", "temp": 20.8},
          {"hora": 126.1, "serie": "Tar", "temp": 21.5},
          {"hora": 129.2, "serie": "Tar", "temp": 25.6},
          {"hora": 132.4, "serie": "Tar", "temp": 28.6},
          {"hora": 135.4, "serie": "Tar", "temp": 30.5},
          {"hora": 137.2, "serie": "Tar", "temp": 26.3},
          {"hora": 138.4, "serie": "Tar", "temp": 22.5},
          {"hora": 141.5, "serie": "Tar", "temp": 20.5},
          {"hora": 144.6, "serie": "Tar", "temp": 20.8},
          {"hora": 148.3, "serie": "Tar", "temp": 19.7},
          {"hora": 152, "serie": "Tar", "temp": 24.6},
          {"hora": 155.7, "serie": "Tar", "temp": 29.0},
          {"hora": 158.8, "serie": "Tar", "temp": 31.5},
          {"hora": 161.8, "serie": "Tar", "temp": 28.3},
          {"hora": 165.5, "serie": "Tar", "temp": 25.6},
          {"hora": 169.2, "serie": "Tar", "temp": 22.2},
          {"hora": 172.9, "serie": "Tar", "temp": 21.4},
          {"hora": 175.4, "serie": "Tar", "temp": 26.6},
          {"hora": 178.4, "serie": "Tar", "temp": 30.1},
          {"hora": 180, "serie": "Tar", "temp": 31.0},
          {"hora": 181.5, "serie": "Tar", "temp": 24.9},
          {"hora": 182.5, "serie": "Tar", "temp": 21.4},
          {"hora": 184, "serie": "Tar", "temp": 24.6},
          {"hora": 186.5, "serie": "Tar", "temp": 24.9},
          {"hora": 191.5, "serie": "Tar", "temp": 22.2},
          {"hora": 196.9, "serie": "Tar", "temp": 19.8},
          {"hora": 200, "serie": "Tar", "temp": 24.2},
          {"hora": 202.5, "serie": "Tar", "temp": 28.6},
          {"hora": 204.9, "serie": "Tar", "temp": 31.0},
          {"hora": 207.4, "serie": "Tar", "temp": 30.6},
          {"hora": 209.9, "serie": "Tar", "temp": 27.9},
          {"hora": 213.6, "serie": "Tar", "temp": 24.2},
          {"hora": 217.2, "serie": "Tar", "temp": 20.8},
          {"hora": 220.9, "serie": "Tar", "temp": 19.5},
          {"hora": 224.6, "serie": "Tar", "temp": 24.9},
          {"hora": 228.3, "serie": "Tar", "temp": 28.6},
          {"hora": 230.8, "serie": "Tar", "temp": 28.4},
          {"hora": 233.3, "serie": "Tar", "temp": 25.6},
          {"hora": 236.9, "serie": "Tar", "temp": 21.9},
          {"hora": 241.9, "serie": "Tar", "temp": 18.5},
          {"hora": 244.3, "serie": "Tar", "temp": 18.1},
          {"hora": 246.8, "serie": "Tar", "temp": 23.5},
          {"hora": 250.5, "serie": "Tar", "temp": 28.6},
          {"hora": 254.2, "serie": "Tar", "temp": 31.0},
          {"hora": 256, "serie": "Tar", "temp": 31.1},
          {"hora": 257.3, "serie": "Tar", "temp": 22.9},
          {"hora": 259.2, "serie": "Tar", "temp": 20.8},
          {"hora": 262.8, "serie": "Tar", "temp": 19.5},
          {"hora": 266.5, "serie": "Tar", "temp": 19.0},
          {"hora": 270.2, "serie": "Tar", "temp": 20.2},
          {"hora": 273.9, "serie": "Tar", "temp": 25.6},
          {"hora": 276.4, "serie": "Tar", "temp": 27.3},
          {"hora": 278.8, "serie": "Tar", "temp": 22.9},
          {"hora": 280.1, "serie": "Tar", "temp": 24.2},
          {"hora": 283.8, "serie": "Tar", "temp": 22.9},
          {"hora": 287.5, "serie": "Tar", "temp": 20.8},
          {"hora": 292.4, "serie": "Tar", "temp": 18.1},
          {"hora": 296.1, "serie": "Tar", "temp": 25.6},
          {"hora": 299.8, "serie": "Tar", "temp": 27.3},
          {"hora": 302.8, "serie": "Tar", "temp": 28.4},
          {"hora": 305.9, "serie": "Tar", "temp": 25.6},
          {"hora": 309.6, "serie": "Tar", "temp": 21.2}
        ]
      },
      "mark": {"type": "line", "clip": true, "strokeCap": "butt", "strokeJoin": "round"},
      "encoding": {
        "x": {
          "field": "hora", "type": "quantitative",
          "scale": {"domain": [-1, 310], "nice": false, "zero": false},
          "axis": {
            "values": [0, 11, 22, 33, 44, 55, 66, 77, 88, 99, 110, 121, 132, 143, 154, 165, 176, 187, 198, 209, 220, 231, 242, 253, 264, 275, 286, 297, 308],
            "labelExpr": "((datum.value % 24) < 10 ? '0' : '') + (datum.value % 24) + ':00'",
            "labelAngle": -90,
            "labelFont": "Liberation Serif", "labelFontSize": 23, "labelPadding": 19,
            "title": "HORÁRIO", "titleFont": "Liberation Serif", "titleFontSize": 27, "titlePadding": 12
          }
        },
        "y": {
          "field": "temp", "type": "quantitative",
          "scale": {"domain": [15, 45], "nice": false, "zero": false},
          "axis": {
            "values": [15, 20, 25, 30, 35, 40, 45],
            "labelExpr": "replace(format(datum.value, '.1f'), '.', ',')",
            "labelFont": "Liberation Serif", "labelFontSize": 24, "labelPadding": 23,
            "title": "TEMPERATURA (°C)", "titleFont": "Liberation Serif", "titleFontSize": 26, "titlePadding": 8
          }
        },
        "color": {
          "field": "serie", "type": "nominal",
          "scale": {"domain": ["Sem Grama", "Com Grama", "Tar"], "range": ["#ED7D31", "#FFC000", "#44546A"]},
          "legend": {"orient": "none", "legendX": 75, "legendY": 429, "direction": "horizontal", "title": null, "symbolType": "stroke", "symbolSize": 5184, "symbolStrokeWidth": 3.5, "labelFont": "Liberation Serif", "labelFontSize": 25, "labelColor": "black", "labelOffset": 9, "columnPadding": 28, "padding": 0, "labelLimit": 300}
        },
        "strokeDash": {
          "field": "serie", "type": "nominal",
          "scale": {"domain": ["Sem Grama", "Com Grama", "Tar"], "range": [[11, 7], [1, 0], [2.5, 4.5]]},
          "legend": {"orient": "none", "legendX": 75, "legendY": 429, "direction": "horizontal", "title": null, "symbolType": "stroke", "symbolSize": 5184, "symbolStrokeWidth": 3.5, "labelFont": "Liberation Serif", "labelFontSize": 25, "labelColor": "black", "labelOffset": 9, "columnPadding": 28, "padding": 0, "labelLimit": 300}
        },
        "strokeWidth": {
          "field": "serie", "type": "nominal",
          "scale": {"domain": ["Sem Grama", "Com Grama", "Tar"], "range": [3, 3.5, 2.5]},
          "legend": null
        }
      }
    }
  ]
}
